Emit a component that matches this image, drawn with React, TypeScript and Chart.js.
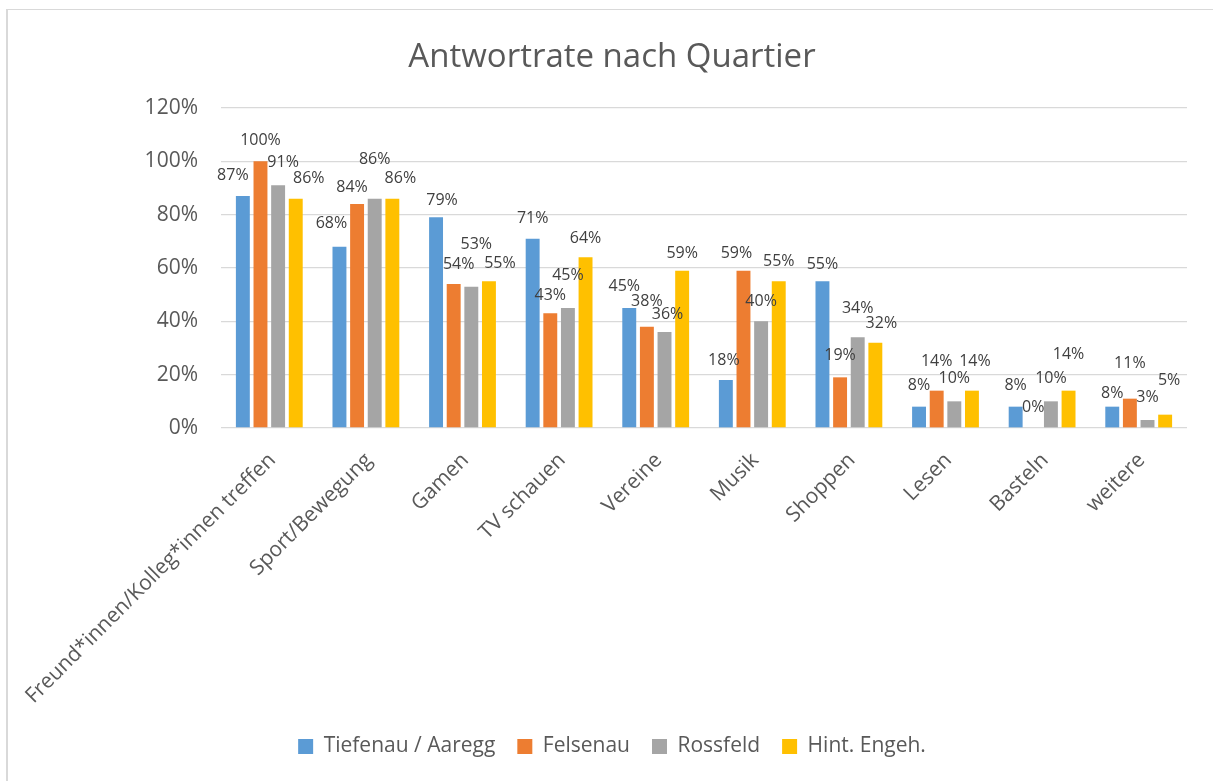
import { useEffect, useRef } from "react";
import { Chart, registerables } from "chart.js";

Chart.register(...registerables);

const categories = [
  "Freund*innen/Kolleg*innen treffen",
  "Sport/Bewegung",
  "Gamen",
  "TV schauen",
  "Vereine",
  "Musik",
  "Shoppen",
  "Lesen",
  "Basteln",
  "weitere",
];
const seriesNames = ["Tiefenau / Aaregg", "Felsenau", "Rossfeld", "Hint. Engeh."];
const tiefenau = [87, 68, 79, 71, 45, 18, 55, 8, 8, 8];
const felsenau = [100, 84, 54, 43, 38, 59, 19, 14, 0, 11];
const rossfeld = [91, 86, 53, 45, 36, 40, 34, 10, 10, 3];
const hintEngeh = [86, 86, 55, 64, 59, 55, 32, 14, 14, 5];
const yTickValues = [0, 20, 40, 60, 80, 100, 120];

// Label placement nudges (dx, dy from the bar's top centre), per series
const labelNudges = [
  [[-10, -21], [-8, -23], [6, -17], [0, -20], [-5, -22], [-2, -20], [0, -17], [0, -21], [0, -21], [0, -13]],
  [[0, -21], [-5, -17], [5, -20], [0, -18], [0, -25], [-7, -17], [0, -22], [0, -29], [0, -21], [0, -35]],
  [[5, -23], [0, -39], [5, -42], [0, -33], [3, -18], [0, -20], [0, -29], [0, -23], [0, -23], [0, -23]],
  [[13, -20], [8, -20], [11, -18], [0, -19], [0, -17], [0, -20], [6, -19], [3, -29], [0, -36], [4, -34]],
];

const colors = ["#5B9BD5", "#ED7D31", "#A5A5A5", "#FFC000"];
const FONT = "'Open Sans', 'Noto Sans', sans-serif";

const W = 1213;
const H = 781;
const LEGEND_FONT = 21;
const LEGEND_PAD = 22;
const LEGEND_H = LEGEND_FONT + LEGEND_PAD + 10;
const PAD_BOTTOM = 14;

const dataLabelPlugin = {
  id: "dataLabels",
  afterDatasetsDraw(chart: any) {
    const ctx = chart.ctx;
    ctx.save();
    ctx.font = `16px ${FONT}`;
    ctx.fillStyle = "#404040";
    ctx.textAlign = "center";
    ctx.textBaseline = "middle";
    chart.data.datasets.forEach((ds: any, di: number) => {
      const meta = chart.getDatasetMeta(di);
      meta.data.forEach((bar: any, i: number) => {
        const v = ds.data[i];
        const [dx, dy] = labelNudges[di][i];
        ctx.fillText(`${Math.round(v)}%`, bar.x + dx, bar.y + dy);
      });
    });
    ctx.restore();
  },
};

export default function App() {
  const ref = useRef<HTMLCanvasElement | null>(null);
  useEffect(() => {
    if (!ref.current) return;
    const seriesData = [tiefenau, felsenau, rossfeld, hintEngeh];
    const chart = new Chart(ref.current, {
      type: "bar",
      data: {
        labels: categories,
        datasets: seriesData.map((d, i) => ({
          label: seriesNames[i],
          data: d,
          backgroundColor: colors[i],
          borderWidth: 0,
          categoryPercentage: 0.73,
          barPercentage: 0.79,
        })),
      },
      options: {
        responsive: false,
        animation: false,
        devicePixelRatio: 1,
        layout: { padding: { left: 37, right: W - 1187, top: 0, bottom: PAD_BOTTOM } },
        plugins: {
          title: {
            display: true,
            text: "Antwortrate nach Quartier",
            color: "#595959",
            font: { family: FONT, size: 33, weight: "normal" },
            padding: { top: 38, bottom: 108 - 38 - 33 * 1.2 },
          },
          legend: {
            position: "bottom",
            labels: {
              color: "#595959",
              font: { family: FONT, size: LEGEND_FONT },
              boxWidth: 15,
              boxHeight: 15,
              padding: LEGEND_PAD,
            },
          },
          tooltip: { enabled: false },
        },
        scales: {
          x: {
            grid: { display: false },
            border: { display: false },
            ticks: {
              color: "#595959",
              font: { family: FONT, size: 21 },
              minRotation: 45,
              maxRotation: 45,
              autoSkip: false,
              padding: 12,
              labelOffset: 3,
            },
            afterFit: (s: any) => {
              s.height = H - PAD_BOTTOM - LEGEND_H - 428;
              s.paddingLeft = 0;
              s.paddingRight = 0;
            },
          },
          y: {
            min: 0,
            max: 120,
            grid: { color: "#d9d9d9", lineWidth: 1.3, drawTicks: false },
            border: { display: false },
            afterBuildTicks: (s: any) => {
              s.ticks = yTickValues.map((v) => ({ value: v }));
            },
            ticks: {
              color: "#595959",
              font: { family: FONT, size: 21 },
              padding: 23,
              callback: (v: any) => `${v}%`,
            },
            afterFit: (s: any) => {
              s.width = 221 - 37;
            },
          },
        },
      },
      plugins: [dataLabelPlugin],
    });
    return () => chart.destroy();
  }, []);

  return (
    <div
      style={{
        position: "fixed",
        left: 0,
        top: 0,
        width: W,
        height: H,
        overflow: "hidden",
        background: "#fff",
      }}
    >
      <canvas ref={ref} width={W} height={H} style={{ position: "absolute", left: 0, top: 0 }} />
      <div
        style={{
          position: "absolute",
          left: 6,
          top: 9,
          width: W + 20,
          height: H + 20,
          borderLeft: "2px solid #d9d9d9",
          borderTop: "1px solid #d9d9d9",
          pointerEvents: "none",
        }}
      />
    </div>
  );
}
